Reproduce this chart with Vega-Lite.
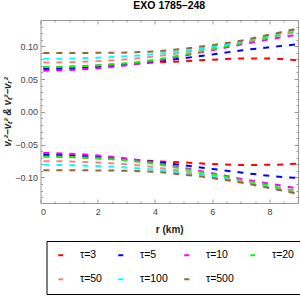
{
  "$schema": "https://vega.github.io/schema/vega-lite/v6.json",
  "width": 257.5,
  "height": 183,
  "autosize": "none",
  "padding": {"left": 40.5, "top": 20, "right": 2, "bottom": 97},
  "background": "white",
  "config": {
    "view": {"stroke": "#999999", "strokeWidth": 1},
    "axis": {"domain": false, "grid": false, "tickColor": "#999999", "labelFont": "Liberation Sans", "labelFontSize": 9, "labelColor": "#444444", "titleFont": "Liberation Sans", "titleFontSize": 10, "titleFontWeight": "bold", "titleColor": "#222222"}
  },
  "title": {"text": "EXO 1785–248", "font": "Liberation Sans", "fontSize": 10.5, "fontWeight": "bold", "color": "#000000", "offset": 8},
  "datasets": {
    "curves": [
      {"tau": "τ=3", "branch": "up", "r": 0.1, "v": 0.0675}, {"tau": "τ=3", "branch": "up", "r": 1, "v": 0.0688}, {"tau": "τ=3", "branch": "up", "r": 2, "v": 0.0708}, {"tau": "τ=3", "branch": "up", "r": 3, "v": 0.0732}, {"tau": "τ=3", "branch": "up", "r": 4, "v": 0.0752}, {"tau": "τ=3", "branch": "up", "r": 5, "v": 0.0772}, {"tau": "τ=3", "branch": "up", "r": 6, "v": 0.0795}, {"tau": "τ=3", "branch": "up", "r": 7, "v": 0.0812}, {"tau": "τ=3", "branch": "up", "r": 8, "v": 0.0812}, {"tau": "τ=3", "branch": "up", "r": 9, "v": 0.0785},
      {"tau": "τ=5", "branch": "up", "r": 0.1, "v": 0.0652}, {"tau": "τ=5", "branch": "up", "r": 1, "v": 0.0660}, {"tau": "τ=5", "branch": "up", "r": 2, "v": 0.0685}, {"tau": "τ=5", "branch": "up", "r": 3, "v": 0.0720}, {"tau": "τ=5", "branch": "up", "r": 4, "v": 0.0765}, {"tau": "τ=5", "branch": "up", "r": 5, "v": 0.0818}, {"tau": "τ=5", "branch": "up", "r": 6, "v": 0.0875}, {"tau": "τ=5", "branch": "up", "r": 7, "v": 0.0935}, {"tau": "τ=5", "branch": "up", "r": 8, "v": 0.0985}, {"tau": "τ=5", "branch": "up", "r": 9, "v": 0.1030},
      {"tau": "τ=10", "branch": "up", "r": 0.1, "v": 0.0628}, {"tau": "τ=10", "branch": "up", "r": 1, "v": 0.0638}, {"tau": "τ=10", "branch": "up", "r": 2, "v": 0.0665}, {"tau": "τ=10", "branch": "up", "r": 3, "v": 0.0710}, {"tau": "τ=10", "branch": "up", "r": 4, "v": 0.0775}, {"tau": "τ=10", "branch": "up", "r": 5, "v": 0.0855}, {"tau": "τ=10", "branch": "up", "r": 6, "v": 0.0940}, {"tau": "τ=10", "branch": "up", "r": 7, "v": 0.1025}, {"tau": "τ=10", "branch": "up", "r": 8, "v": 0.1105}, {"tau": "τ=10", "branch": "up", "r": 9, "v": 0.1180},
      {"tau": "τ=20", "branch": "up", "r": 0.1, "v": 0.0683}, {"tau": "τ=20", "branch": "up", "r": 1, "v": 0.0688}, {"tau": "τ=20", "branch": "up", "r": 2, "v": 0.0708}, {"tau": "τ=20", "branch": "up", "r": 3, "v": 0.0740}, {"tau": "τ=20", "branch": "up", "r": 4, "v": 0.0795}, {"tau": "τ=20", "branch": "up", "r": 5, "v": 0.0870}, {"tau": "τ=20", "branch": "up", "r": 6, "v": 0.0955}, {"tau": "τ=20", "branch": "up", "r": 7, "v": 0.1045}, {"tau": "τ=20", "branch": "up", "r": 8, "v": 0.1135}, {"tau": "τ=20", "branch": "up", "r": 9, "v": 0.1230},
      {"tau": "τ=50", "branch": "up", "r": 0.1, "v": 0.0752}, {"tau": "τ=50", "branch": "up", "r": 1, "v": 0.0757}, {"tau": "τ=50", "branch": "up", "r": 2, "v": 0.0773}, {"tau": "τ=50", "branch": "up", "r": 3, "v": 0.0800}, {"tau": "τ=50", "branch": "up", "r": 4, "v": 0.0845}, {"tau": "τ=50", "branch": "up", "r": 5, "v": 0.0905}, {"tau": "τ=50", "branch": "up", "r": 6, "v": 0.0980}, {"tau": "τ=50", "branch": "up", "r": 7, "v": 0.1065}, {"tau": "τ=50", "branch": "up", "r": 8, "v": 0.1155}, {"tau": "τ=50", "branch": "up", "r": 9, "v": 0.1250},
      {"tau": "τ=100", "branch": "up", "r": 0.1, "v": 0.0808}, {"tau": "τ=100", "branch": "up", "r": 1, "v": 0.0812}, {"tau": "τ=100", "branch": "up", "r": 2, "v": 0.0826}, {"tau": "τ=100", "branch": "up", "r": 3, "v": 0.0848}, {"tau": "τ=100", "branch": "up", "r": 4, "v": 0.0882}, {"tau": "τ=100", "branch": "up", "r": 5, "v": 0.0930}, {"tau": "τ=100", "branch": "up", "r": 6, "v": 0.0995}, {"tau": "τ=100", "branch": "up", "r": 7, "v": 0.1073}, {"tau": "τ=100", "branch": "up", "r": 8, "v": 0.1165}, {"tau": "τ=100", "branch": "up", "r": 9, "v": 0.1260},
      {"tau": "τ=500", "branch": "up", "r": 0.1, "v": 0.0898}, {"tau": "τ=500", "branch": "up", "r": 1, "v": 0.0898}, {"tau": "τ=500", "branch": "up", "r": 2, "v": 0.0899}, {"tau": "τ=500", "branch": "up", "r": 3, "v": 0.0904}, {"tau": "τ=500", "branch": "up", "r": 4, "v": 0.0922}, {"tau": "τ=500", "branch": "up", "r": 5, "v": 0.0963}, {"tau": "τ=500", "branch": "up", "r": 6, "v": 0.1017}, {"tau": "τ=500", "branch": "up", "r": 7, "v": 0.1085}, {"tau": "τ=500", "branch": "up", "r": 8, "v": 0.1175}, {"tau": "τ=500", "branch": "up", "r": 9, "v": 0.1270},
      {"tau": "τ=3", "branch": "down", "r": 0.1, "v": -0.0675}, {"tau": "τ=3", "branch": "down", "r": 1, "v": -0.0688}, {"tau": "τ=3", "branch": "down", "r": 2, "v": -0.0708}, {"tau": "τ=3", "branch": "down", "r": 3, "v": -0.0732}, {"tau": "τ=3", "branch": "down", "r": 4, "v": -0.0752}, {"tau": "τ=3", "branch": "down", "r": 5, "v": -0.0772}, {"tau": "τ=3", "branch": "down", "r": 6, "v": -0.0795}, {"tau": "τ=3", "branch": "down", "r": 7, "v": -0.0810}, {"tau": "τ=3", "branch": "down", "r": 8, "v": -0.0808}, {"tau": "τ=3", "branch": "down", "r": 9, "v": -0.0790},
      {"tau": "τ=5", "branch": "down", "r": 0.1, "v": -0.0652}, {"tau": "τ=5", "branch": "down", "r": 1, "v": -0.0660}, {"tau": "τ=5", "branch": "down", "r": 2, "v": -0.0685}, {"tau": "τ=5", "branch": "down", "r": 3, "v": -0.0720}, {"tau": "τ=5", "branch": "down", "r": 4, "v": -0.0765}, {"tau": "τ=5", "branch": "down", "r": 5, "v": -0.0815}, {"tau": "τ=5", "branch": "down", "r": 6, "v": -0.0870}, {"tau": "τ=5", "branch": "down", "r": 7, "v": -0.0925}, {"tau": "τ=5", "branch": "down", "r": 8, "v": -0.0975}, {"tau": "τ=5", "branch": "down", "r": 9, "v": -0.1010},
      {"tau": "τ=10", "branch": "down", "r": 0.1, "v": -0.0628}, {"tau": "τ=10", "branch": "down", "r": 1, "v": -0.0638}, {"tau": "τ=10", "branch": "down", "r": 2, "v": -0.0665}, {"tau": "τ=10", "branch": "down", "r": 3, "v": -0.0710}, {"tau": "τ=10", "branch": "down", "r": 4, "v": -0.0775}, {"tau": "τ=10", "branch": "down", "r": 5, "v": -0.0855}, {"tau": "τ=10", "branch": "down", "r": 6, "v": -0.0935}, {"tau": "τ=10", "branch": "down", "r": 7, "v": -0.1020}, {"tau": "τ=10", "branch": "down", "r": 8, "v": -0.1095}, {"tau": "τ=10", "branch": "down", "r": 9, "v": -0.1170},
      {"tau": "τ=20", "branch": "down", "r": 0.1, "v": -0.0683}, {"tau": "τ=20", "branch": "down", "r": 1, "v": -0.0688}, {"tau": "τ=20", "branch": "down", "r": 2, "v": -0.0708}, {"tau": "τ=20", "branch": "down", "r": 3, "v": -0.0740}, {"tau": "τ=20", "branch": "down", "r": 4, "v": -0.0795}, {"tau": "τ=20", "branch": "down", "r": 5, "v": -0.0870}, {"tau": "τ=20", "branch": "down", "r": 6, "v": -0.0950}, {"tau": "τ=20", "branch": "down", "r": 7, "v": -0.1040}, {"tau": "τ=20", "branch": "down", "r": 8, "v": -0.1125}, {"tau": "τ=20", "branch": "down", "r": 9, "v": -0.1215},
      {"tau": "τ=50", "branch": "down", "r": 0.1, "v": -0.0752}, {"tau": "τ=50", "branch": "down", "r": 1, "v": -0.0757}, {"tau": "τ=50", "branch": "down", "r": 2, "v": -0.0773}, {"tau": "τ=50", "branch": "down", "r": 3, "v": -0.0800}, {"tau": "τ=50", "branch": "down", "r": 4, "v": -0.0845}, {"tau": "τ=50", "branch": "down", "r": 5, "v": -0.0905}, {"tau": "τ=50", "branch": "down", "r": 6, "v": -0.0975}, {"tau": "τ=50", "branch": "down", "r": 7, "v": -0.1060}, {"tau": "τ=50", "branch": "down", "r": 8, "v": -0.1145}, {"tau": "τ=50", "branch": "down", "r": 9, "v": -0.1235},
      {"tau": "τ=100", "branch": "down", "r": 0.1, "v": -0.0808}, {"tau": "τ=100", "branch": "down", "r": 1, "v": -0.0812}, {"tau": "τ=100", "branch": "down", "r": 2, "v": -0.0826}, {"tau": "τ=100", "branch": "down", "r": 3, "v": -0.0848}, {"tau": "τ=100", "branch": "down", "r": 4, "v": -0.0882}, {"tau": "τ=100", "branch": "down", "r": 5, "v": -0.0930}, {"tau": "τ=100", "branch": "down", "r": 6, "v": -0.0990}, {"tau": "τ=100", "branch": "down", "r": 7, "v": -0.1068}, {"tau": "τ=100", "branch": "down", "r": 8, "v": -0.1155}, {"tau": "τ=100", "branch": "down", "r": 9, "v": -0.1245},
      {"tau": "τ=500", "branch": "down", "r": 0.1, "v": -0.0892}, {"tau": "τ=500", "branch": "down", "r": 1, "v": -0.0892}, {"tau": "τ=500", "branch": "down", "r": 2, "v": -0.0893}, {"tau": "τ=500", "branch": "down", "r": 3, "v": -0.0898}, {"tau": "τ=500", "branch": "down", "r": 4, "v": -0.0916}, {"tau": "τ=500", "branch": "down", "r": 5, "v": -0.0957}, {"tau": "τ=500", "branch": "down", "r": 6, "v": -0.1010}, {"tau": "τ=500", "branch": "down", "r": 7, "v": -0.1078}, {"tau": "τ=500", "branch": "down", "r": 8, "v": -0.1163}, {"tau": "τ=500", "branch": "down", "r": 9, "v": -0.1250}
    ]
  },
  "data": {"name": "curves"},
  "layer": [
    {
      "mark": {"type": "point", "opacity": 0},
      "encoding": {
        "x": {"field": "r", "type": "quantitative", "scale": {"domain": [0, 9], "nice": false, "zero": false}, "axis": {"orient": "top", "title": null, "labels": false, "values": [0, 2, 4, 6, 8], "tickSize": -4}},
        "y": {"field": "v", "type": "quantitative", "scale": {"domain": [-0.139, 0.14], "nice": false, "zero": false}, "axis": {"orient": "right", "title": null, "labels": false, "values": [-0.1, -0.05, 0, 0.05, 0.1], "tickSize": -4}}
      }
    },
    {
      "mark": {"type": "point", "opacity": 0},
      "encoding": {
        "x": {"field": "r", "type": "quantitative", "axis": {"orient": "top", "title": null, "labels": false, "values": [0.5, 1, 1.5, 2.5, 3, 3.5, 4.5, 5, 5.5, 6.5, 7, 7.5, 8.5], "tickSize": -2}},
        "y": {"field": "v", "type": "quantitative", "axis": {"orient": "right", "title": null, "labels": false, "values": [-0.13, -0.12, -0.11, -0.09, -0.08, -0.07, -0.06, -0.04, -0.03, -0.02, -0.01, 0.01, 0.02, 0.03, 0.04, 0.06, 0.07, 0.08, 0.09, 0.11, 0.12, 0.13], "tickSize": -2}}
      }
    },
    {
      "mark": {"type": "point", "opacity": 0},
      "encoding": {
        "x": {"field": "r", "type": "quantitative", "axis": {"orient": "bottom", "title": null, "labels": false, "values": [0.5, 1, 1.5, 2.5, 3, 3.5, 4.5, 5, 5.5, 6.5, 7, 7.5, 8.5], "tickSize": -2}},
        "y": {"field": "v", "type": "quantitative", "axis": {"orient": "left", "title": null, "labels": false, "values": [-0.13, -0.12, -0.11, -0.09, -0.08, -0.07, -0.06, -0.04, -0.03, -0.02, -0.01, 0.01, 0.02, 0.03, 0.04, 0.06, 0.07, 0.08, 0.09, 0.11, 0.12, 0.13], "tickSize": -2}}
      }
    },
    {
      "mark": {"type": "line", "strokeWidth": 2, "strokeDash": [6, 7], "strokeCap": "butt", "interpolate": "monotone", "clip": true},
      "encoding": {
        "x": {"field": "r", "type": "quantitative",
              "axis": {"orient": "bottom", "title": "r (km)", "values": [0, 2, 4, 6, 8], "format": "d", "tickSize": -4, "labelPadding": 8, "titlePadding": 8}},
        "y": {"field": "v", "type": "quantitative",
              "axis": {"orient": "left", "title": "vᵣ²−vₜ² & vₜ²−vᵣ²", "titleFontStyle": "italic", "values": [-0.1, -0.05, 0, 0.05, 0.1], "format": ".2f", "tickSize": -4, "labelPadding": 7, "titlePadding": 2}},
        "color": {"field": "tau", "type": "nominal",
                  "scale": {"domain": ["τ=3", "τ=5", "τ=10", "τ=20", "τ=50", "τ=100", "τ=500"], "range": ["#ff0000", "#0000ff", "#ff00ff", "#00ff00", "#ff8080", "#00ffff", "#996633"]},
                  "legend": {"title": null, "orient": "none", "legendX": 6, "legendY": 221, "direction": "horizontal", "columns": 4, "gridAlign": "none", "columnPadding": 11, "rowPadding": 13, "padding": 9, "strokeColor": "#000000", "fillColor": "white", "symbolType": "stroke", "symbolSize": 25, "symbolStrokeWidth": 2, "symbolDash": [], "labelOffset": 14, "labelFont": "Liberation Sans", "labelFontSize": 10.5, "labelColor": "#000000"}},
        "detail": {"field": "branch", "type": "nominal"},
        "order": {"field": "r", "type": "quantitative"}
      }
    }
  ],
  "resolve": {"axis": {"x": "independent", "y": "independent"}}
}
